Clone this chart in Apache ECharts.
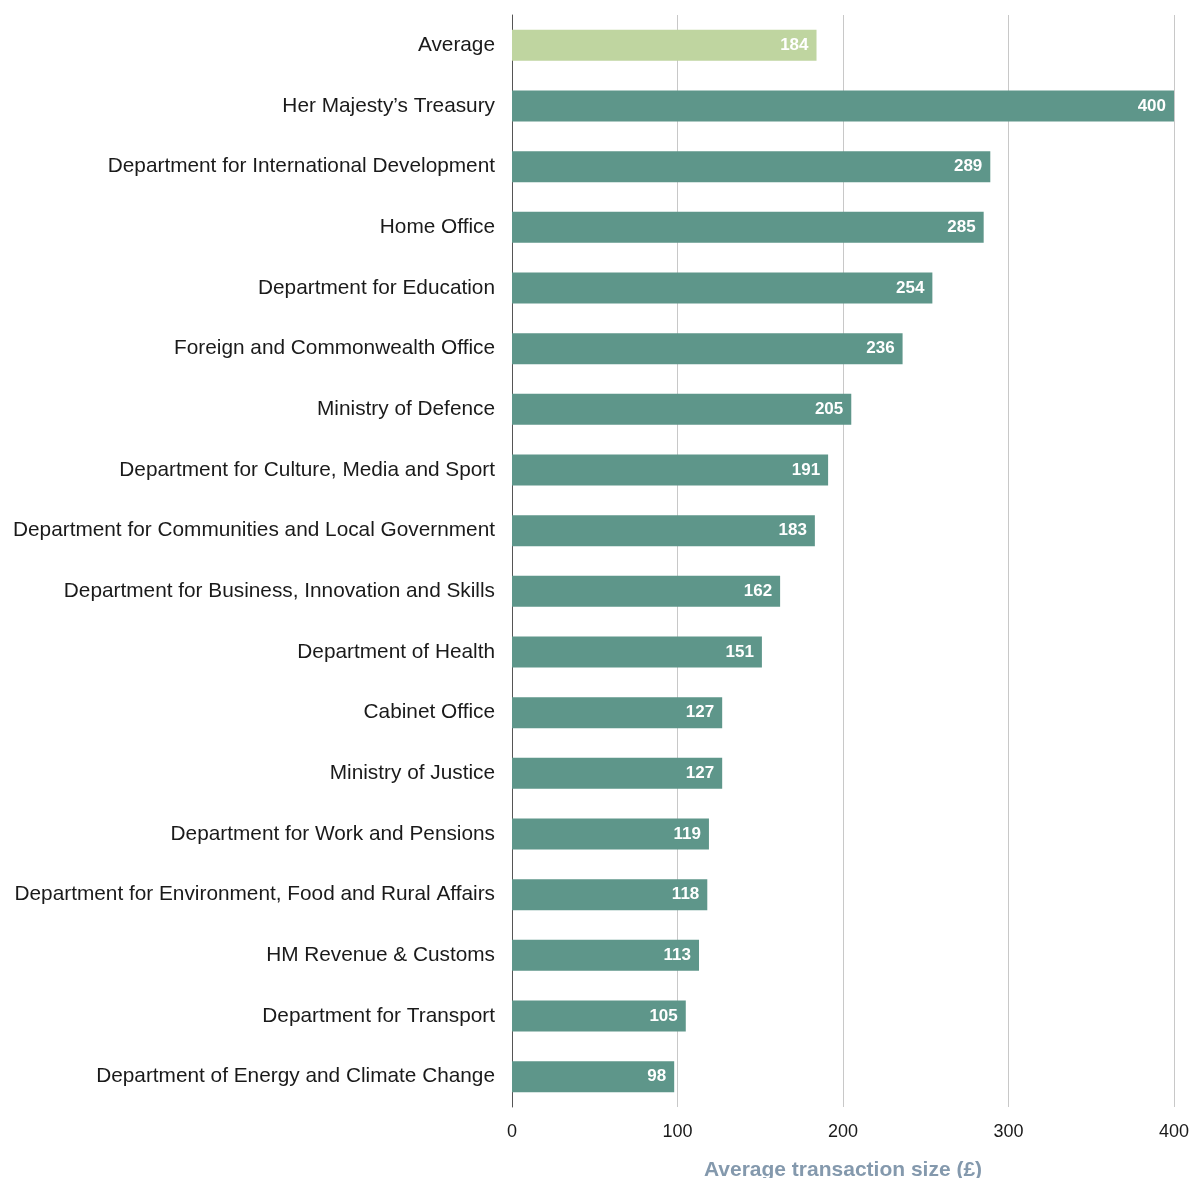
<!DOCTYPE html>
<html><head><meta charset="utf-8">
<script src="https://cdn.jsdelivr.net/npm/echarts@6/dist/echarts.min.js"></script>
<style>html,body{margin:0;padding:0;background:#fff}#c{width:1191px;height:1178px}</style>
</head><body><div id="c"></div>
<script>
const categories = ["Average","Her Majesty\u2019s Treasury","Department for International Development","Home Office","Department for Education","Foreign and Commonwealth Office","Ministry of Defence","Department for Culture, Media and Sport","Department for Communities and Local Government","Department for Business, Innovation and Skills","Department of Health","Cabinet Office","Ministry of Justice","Department for Work and Pensions","Department for Environment, Food and Rural Affairs","HM Revenue & Customs","Department for Transport","Department of Energy and Climate Change"];
const values = [184,400,289,285,254,236,205,191,183,162,151,127,127,119,118,113,105,98];
const xTicks = [0,100,200,300,400];
const axisTitle = "Average transaction size (\u00a3)";

const font = "'Liberation Sans', Helvetica, Arial, sans-serif";
const chart = echarts.init(document.getElementById('c'));
chart.setOption({
  animation:false,
  grid:{left:512,right:17,top:15,bottom:71,containLabel:false,outerBoundsMode:'none'},
  xAxis:{type:'value',min:xTicks[0],max:xTicks[xTicks.length-1],interval:100,
    axisLine:{show:false},axisTick:{show:false},
    splitLine:{show:true,lineStyle:{color:'#c8c8c8',width:1}},
    axisLabel:{color:'#1a1a1a',fontFamily:font,fontSize:18,margin:16},
    name:axisTitle,nameLocation:'middle',nameGap:53,
    nameTextStyle:{color:'#8499ad',fontFamily:font,fontSize:21,fontWeight:'bold'}},
  yAxis:{type:'category',data:categories,inverse:true,
    axisLine:{show:true,lineStyle:{color:'#555',width:1}},axisTick:{show:false},
    axisLabel:{color:'#1a1a1a',fontFamily:font,fontSize:20.8,margin:17}},
  series:[{type:'bar',barWidth:31,
    data:values.map((v,i)=>({value:v,itemStyle:{color:i===0?'#bfd5a0':'#5e968a'}})),
    label:{show:true,position:'insideRight',distance:8,color:'#fff',fontFamily:font,fontSize:17,fontWeight:'bold'}}]
});
</script></body></html>
